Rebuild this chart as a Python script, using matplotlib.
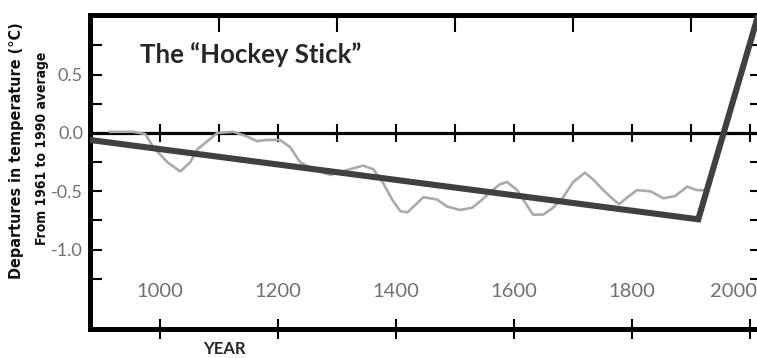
import matplotlib
matplotlib.use("Agg")
import matplotlib.pyplot as plt
from matplotlib.ticker import FixedLocator, FixedFormatter
from matplotlib.transforms import ScaledTranslation

# grey proxy reconstruction curve
proxy_years = [915, 954, 975, 988, 1012, 1034, 1051, 1063, 1080, 1097,
               1124, 1147, 1164, 1181, 1203, 1220, 1237, 1259, 1288, 1322,
               1344, 1361, 1378, 1393, 1407, 1419, 1436, 1446, 1469, 1486,
               1508, 1529, 1546, 1563, 1576, 1588, 1605, 1619, 1632, 1649,
               1666, 1683, 1700, 1720, 1734, 1751, 1768, 1778, 1792, 1808,
               1831, 1853, 1873, 1893, 1910, 1920]
proxy_vals = [0.01, 0.01, -0.01, -0.12, -0.25, -0.33, -0.25, -0.14, -0.07, 0.0,
              0.01, -0.03, -0.07, -0.06, -0.06, -0.12, -0.25, -0.31, -0.36, -0.31,
              -0.28, -0.31, -0.43, -0.57, -0.67, -0.68, -0.60, -0.55, -0.57, -0.63,
              -0.66, -0.64, -0.57, -0.49, -0.44, -0.42, -0.49, -0.60, -0.70, -0.70,
              -0.64, -0.55, -0.42, -0.34, -0.40, -0.49, -0.57, -0.61, -0.55, -0.49,
              -0.50, -0.56, -0.54, -0.46, -0.49, -0.49]

# the thick "stick" (handle + blade)
stick_years = [881, 1912, 2020]
stick_vals = [-0.06, -0.74, 1.12]

x_ticks = [1000, 1200, 1400, 1600, 1800, 2000]
x_labels = ["1000", "1200", "1400", "1600", "1800", "2000"]
top_ticks = [1100, 1300, 1400, 1500, 1600, 1700, 1800, 1900]
zero_ticks = [1000, 1100, 1200, 1300, 1400, 1500, 1600, 1700, 1800, 1900, 2000]
y_ticks = [-1.0, -0.5, 0.0, 0.5]
y_labels = ["-1.0", "-0.5", "0.0", "0.5"]
y_minor = [-1.25, -0.75, -0.25, 0.25, 0.75]

label_font = ["Lato", "DejaVu Sans"]
narrow_font = ["DejaVu Sans"]

fig = plt.figure(figsize=(7.57, 3.58), dpi=100)
ax = fig.add_axes([90 / 757, 1 - 329 / 358, 672 / 757, 314 / 358])
ax.set_xlim(881, 2020)
ax.set_ylim(-1.68, 1.011)

ax.axhline(0, color="black", lw=2.3, zorder=2)
ax.plot(zero_ticks, [0] * len(zero_ticks), ls="none", marker="|",
        ms=13, mew=1.5, color="black", zorder=2)

ax.plot(proxy_years, proxy_vals, color="#aaaaaa", lw=1.9,
        solid_joinstyle="round", zorder=3)
ax.plot(stick_years, stick_vals, color="#404040", lw=4.4,
        solid_joinstyle="miter", zorder=4)

for side in ["left", "right", "top", "bottom"]:
    ax.spines[side].set_linewidth(3.6)
    ax.spines[side].set_color("black")

ax.xaxis.set_major_locator(FixedLocator(x_ticks))
ax.xaxis.set_major_formatter(FixedFormatter(x_labels))
ax.xaxis.set_minor_locator(FixedLocator(top_ticks))
ax.tick_params(axis="x", which="major", direction="inout", length=14,
               width=1.5, top=False, bottom=True, pad=-40,
               labelsize=14.5, labelcolor="#707070")
ax.tick_params(axis="x", which="minor", direction="in", length=12,
               width=1.5, top=True, bottom=False)

ax.yaxis.set_major_locator(FixedLocator(y_ticks))
ax.yaxis.set_major_formatter(FixedFormatter(y_labels))
ax.yaxis.set_minor_locator(FixedLocator(y_minor))
ax.tick_params(axis="y", which="both", direction="in", length=8.5,
               width=1.5, left=True, right=True, pad=5,
               labelsize=13, labelcolor="#707070")
for lab in ax.get_xticklabels() + ax.get_yticklabels():
    lab.set_family(label_font)

# last year label sits a little left of its tick in the original
last = ax.get_xticklabels()[-1]
last.set_transform(last.get_transform() +
                   ScaledTranslation(-12 / 72, 0, fig.dpi_scale_trans))

fig.text(140 / 757, 1 - 63 / 358, "The \u201cHockey Stick\u201d",
         family=label_font, fontweight="bold", fontsize=18.5,
         color="#262626", va="baseline", ha="left")
fig.text(17 / 757, 1 - 151 / 358, "Departures in temperature (\u00b0C)",
         family=narrow_font, fontweight="bold", fontstretch="condensed",
         fontsize=11.5, rotation=90, ha="center", va="center", color="#111111")
fig.text(42 / 757, 1 - 148 / 358, "From 1961 to 1990 average",
         family=narrow_font, fontweight="bold", fontstretch="condensed",
         fontsize=10, rotation=90, ha="center", va="center", color="#111111")
fig.text(224 / 757, 1.5 / 358, "YEAR", family=label_font,
         fontweight="bold", fontsize=12, color="#262626",
         ha="center", va="bottom")

fig.savefig("out.png", dpi=100)
